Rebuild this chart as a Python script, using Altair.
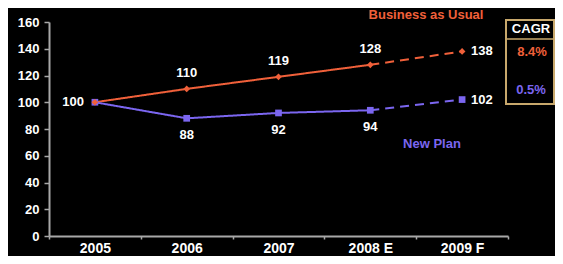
import altair as alt
import pandas as pd

years = ["2005", "2006", "2007", "2008 E", "2009 F"]
series_names = ["Business as Usual", "New Plan"]
bau_values = [100, 110, 119, 128, 138]
new_plan_values = [100, 88, 92, 94, 102]
cagr_labels = ["8.4%", "0.5%"]
y_ticks = [0, 20, 40, 60, 80, 100, 120, 140, 160]

ORANGE = "#F0603A"
PURPLE = "#7B66F0"
GRAY = "#A8A8A8"
BOX = "#C8A86C"
FONT = "Liberation Sans"

point_rows = []
line_rows = []
for name, vals in zip(series_names, [bau_values, new_plan_values]):
    for i, (yr, v) in enumerate(zip(years, vals)):
        point_rows.append({"series": name, "year": yr, "idx": i, "value": v})
        if i <= 3:
            line_rows.append({"series": name, "idx": i, "value": v, "seg": "solid"})
        if i >= 3:
            line_rows.append({"series": name, "idx": i, "value": v, "seg": "dash"})
points_df = pd.DataFrame(point_rows)
lines_df = pd.DataFrame(line_rows)

years_js = "[" + ",".join("'" + y + "'" for y in years) + "]"

x_enc = alt.X(
    "pos:Q",
    scale=alt.Scale(domain=[0, len(years)], nice=False, zero=False),
    axis=alt.Axis(
        values=[i * 0.5 for i in range(2 * len(years) + 1)],
        labelExpr=f"datum.value % 1 === 0 ? '' : {years_js}[floor(datum.value)]",
        tickOpacity={"condition": {"test": "datum.value % 1 === 0", "value": 1}, "value": 0},
        labelOverlap=False,
        labelColor="white",
        labelFont=FONT,
        labelFontSize=14,
        labelFontWeight="bold",
        labelPadding=2,
        domainColor=GRAY,
        domainWidth=2,
        tickColor=GRAY,
        tickWidth=1.5,
        tickSize=3,
        grid=False,
        title=None,
    ),
)
y_enc = alt.Y(
    "value:Q",
    scale=alt.Scale(domain=[0, 160], nice=False),
    axis=alt.Axis(
        values=y_ticks,
        labelColor="white",
        labelFont=FONT,
        labelFontSize=13,
        labelFontWeight="bold",
        labelPadding=5,
        domainColor=GRAY,
        domainWidth=2,
        tickColor=GRAY,
        tickWidth=1.5,
        tickSize=5,
        grid=False,
        title=None,
    ),
)
color_enc = alt.Color(
    "series:N",
    scale=alt.Scale(domain=series_names, range=[ORANGE, PURPLE]),
    legend=None,
)

base_lines = alt.Chart(lines_df).transform_calculate(pos="datum.idx + 0.5")
lines = base_lines.mark_line(strokeWidth=2).encode(
    x=x_enc,
    y=y_enc,
    color=color_enc,
    strokeDash=alt.StrokeDash(
        "seg:N",
        scale=alt.Scale(domain=["solid", "dash"], range=[[1, 0], [9, 6]]),
        legend=None,
    ),
    detail="series:N",
)

base_pts = alt.Chart(points_df).transform_calculate(pos="datum.idx + 0.5")
points = base_pts.mark_point(filled=True, opacity=1).encode(
    x=x_enc,
    y=y_enc,
    color=color_enc,
    shape=alt.Shape(
        "series:N",
        scale=alt.Scale(domain=series_names, range=["diamond", "square"]),
        legend=None,
    ),
    size=alt.value(45),
    order=alt.Order("series:N", sort="descending"),
)

text_style = dict(font=FONT, fontSize=13, fontWeight="bold", color="white")

lbl_left = base_pts.transform_filter(
    f"datum.idx == 0 && datum.series == '{series_names[0]}'"
).mark_text(align="right", baseline="middle", dx=-11, **text_style).encode(
    x=x_enc, y=y_enc, text="value:Q"
)
lbl_above = base_pts.transform_filter(
    f"datum.idx >= 1 && datum.idx <= 3 && datum.series == '{series_names[0]}'"
).mark_text(align="center", baseline="middle", dy=-16, **text_style).encode(
    x=x_enc, y=y_enc, text="value:Q"
)
lbl_below = base_pts.transform_filter(
    f"datum.idx >= 1 && datum.idx <= 3 && datum.series == '{series_names[1]}'"
).mark_text(align="center", baseline="middle", dy=17, **text_style).encode(
    x=x_enc, y=y_enc, text="value:Q"
)
lbl_right = base_pts.transform_filter("datum.idx == 4").mark_text(
    align="left", baseline="middle", dx=9, **text_style
).encode(x=x_enc, y=y_enc, text="value:Q")

one = alt.Data(values=[{"a": 1}])
bold = dict(font=FONT, fontSize=13, fontWeight="bold", align="center", baseline="middle")

title_bau = alt.Chart(one).mark_text(color=ORANGE, **bold).encode(
    x=alt.value(377), y=alt.value(-7), text=alt.value(series_names[0])
)
title_np = alt.Chart(one).mark_text(color=PURPLE, **bold).encode(
    x=alt.value(383), y=alt.value(122), text=alt.value(series_names[1])
)
box = alt.Chart(one).mark_rect(fillOpacity=0, stroke=BOX, strokeWidth=2).encode(
    x=alt.value(457), x2=alt.value(505), y=alt.value(-2), y2=alt.value(82)
)
box_rule = alt.Chart(one).mark_rule(color=BOX, strokeWidth=1.5).encode(
    x=alt.value(457), x2=alt.value(505), y=alt.value(17)
)
cagr_title = alt.Chart(one).mark_text(color="white", **bold).encode(
    x=alt.value(482), y=alt.value(7), text=alt.value("CAGR")
)
cagr_bau = alt.Chart(one).mark_text(color=ORANGE, **bold).encode(
    x=alt.value(483), y=alt.value(30), text=alt.value(cagr_labels[0])
)
cagr_np = alt.Chart(one).mark_text(color=PURPLE, **bold).encode(
    x=alt.value(482), y=alt.value(68), text=alt.value(cagr_labels[1])
)

chart = alt.layer(
    lines, points, lbl_left, lbl_above, lbl_below, lbl_right,
    title_bau, title_np, box, box_rule, cagr_title, cagr_bau, cagr_np,
).properties(
    width=459,
    height=214,
    autosize=alt.AutoSizeParams(type="none"),
    padding={"left": 41, "top": 14, "right": 47, "bottom": 20},
    background="black",
).configure_view(stroke=None)

chart.save("out.html", embed_options={"renderer": "svg", "actions": False})
